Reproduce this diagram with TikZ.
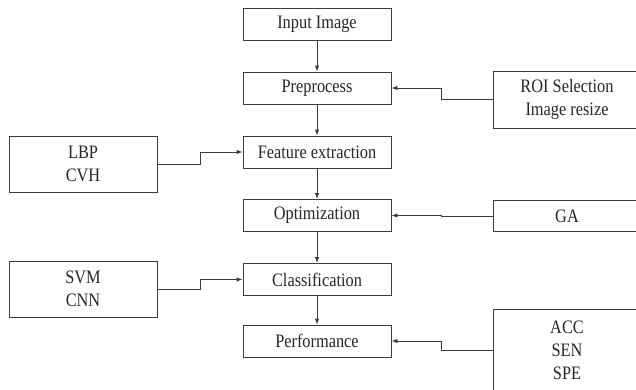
\documentclass[tikz,border=0pt]{standalone}
\usepackage{tikz}
\usepackage{fontspec}
\setmainfont[FakeStretch=0.86]{Liberation Serif}
\usetikzlibrary{arrows.meta, positioning, calc}
\definecolor{boxgray}{RGB}{60,60,60}
\tikzset{
    mainbox/.style={draw=boxgray, line width=0.9pt, minimum width=148pt, minimum height=32pt, inner sep=0pt, font=\fontsize{19}{23}\selectfont, text=black!85},
    sidebox/.style={mainbox, align=center},
    link/.style={draw=boxgray, line width=0.9pt, -{Latex[length=6pt,width=4.5pt]}}
}

\begin{document}
\begin{tikzpicture}[x=1pt, y=-1pt]
        \useasboundingbox (0,0) rectangle (636,389);
        \clip (0,0) rectangle (636,389);
        % main column
        \node[mainbox] (input) at (317,24) {Input Image};
        \node[mainbox] (pre) at (317,88) {Preprocess};
        \node[mainbox] (feat) at (317,152) {Feature extraction};
        \node[mainbox] (opt) at (317,215.5) {Optimization};
        \node[mainbox] (cls) at (317,279.5) {Classification};
        \node[mainbox] (perf) at (317,341) {Performance};
        % side inputs
        \node[sidebox, minimum height=57pt] (roi) at (567,99.5) {ROI Selection\\Image resize};
        \node[sidebox, minimum height=56pt] (lbp) at (83,164) {LBP\\CVH};
        \node[sidebox, minimum height=31pt] (ga) at (567,216) {GA};
        \node[sidebox, minimum height=56pt] (svm) at (83,289) {SVM\\CNN};
        \node[sidebox, minimum height=82pt] (acc) at (567,350) {ACC\\SEN\\SPE};
        % flow
        \draw[link] (input) -- (pre);
        \draw[link] (pre) -- (feat);
        \draw[link] (feat) -- (opt);
        \draw[link] (opt) -- (cls);
        \draw[link] (cls) -- (perf);
        \draw[link] (roi.west) -- ++(-51,0) |- (pre.east);
        \draw[link] (lbp.east) -- ++(43,0) |- (feat.west);
        \draw[link] (ga.west) -- ++(-51,0) |- (opt.east);
        \draw[link] (svm.east) -- ++(43,0) |- (cls.west);
        \draw[link] (acc.west) -- ++(-51,0) |- (perf.east);
    \end{tikzpicture}
\end{document}
